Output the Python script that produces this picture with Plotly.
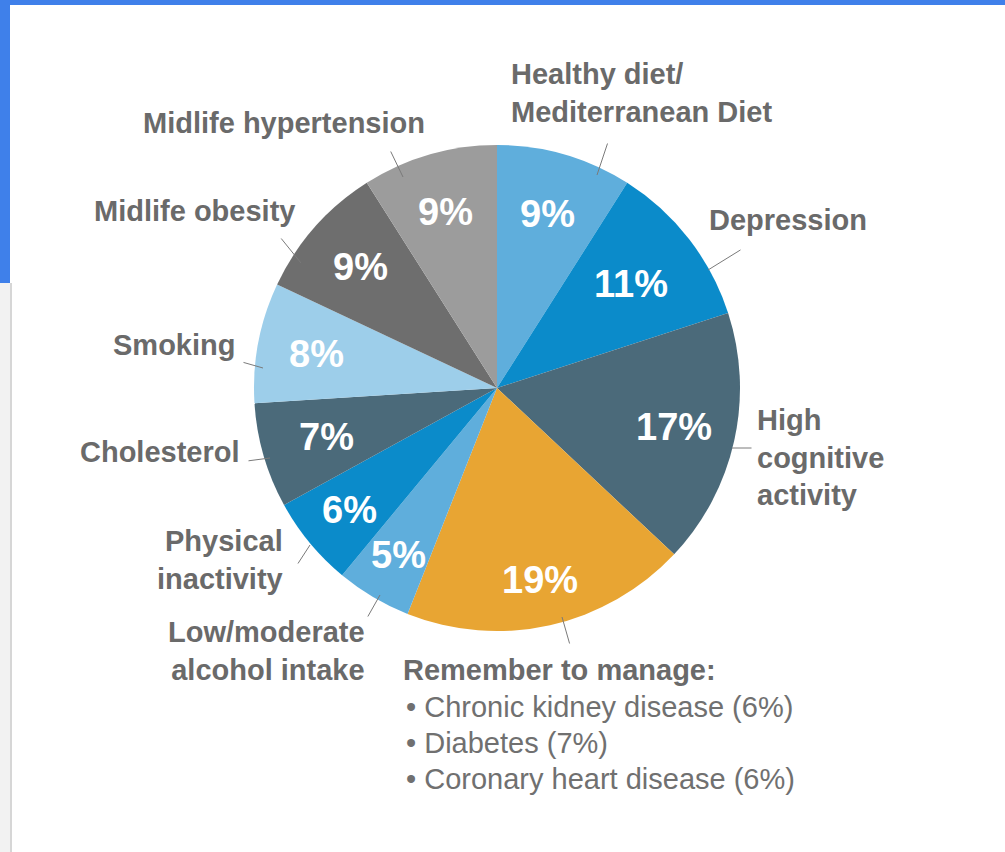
import math
import plotly.graph_objects as go

# ---------------- data ----------------
labels = ["Healthy diet/ Mediterranean Diet", "Depression", "High cognitive activity",
          "Remember to manage", "Low/moderate alcohol intake", "Physical inactivity",
          "Cholesterol", "Smoking", "Midlife obesity", "Midlife hypertension"]
values = [9, 11, 17, 19, 5, 6, 7, 8, 9, 9]
colors = ["#5FAEDC", "#0B8BCA", "#4B6A7A", "#E8A533", "#5FAEDC", "#0B8BCA",
          "#4B6A7A", "#9DCEEA", "#6E6E6E", "#9C9C9C"]
manage_items = ["Chronic kidney disease (6%)", "Diabetes (7%)", "Coronary heart disease (6%)"]

# ---------------- layout helpers ----------------
W, H = 1005, 852
CX, CY, R = 497, 388, 243


def px(x):
    return x / W


def py(y):
    return 1 - y / H


fig = go.Figure()
fig.add_trace(go.Pie(
    labels=labels, values=values, sort=False, direction="clockwise", rotation=0,
    marker=dict(colors=colors, line=dict(width=0)),
    textinfo="none", hoverinfo="label+percent", showlegend=False,
    domain=dict(x=[px(CX - R), px(CX + R)], y=[py(CY + R), py(CY - R)]),
))

annotations = []

# percentage labels placed along each slice's mid-angle
radial_frac = [0.745, 0.70, 0.745, 0.81, 0.80, 0.79, 0.73, 0.755, 0.75, 0.755]
total = sum(values)
cum = 0
for v, f in zip(values, radial_frac):
    mid = (cum + v / 2) / total * 2 * math.pi
    cum += v
    x = CX + R * f * math.sin(mid)
    y = CY - R * f * math.cos(mid)
    annotations.append(dict(
        x=px(x), y=py(y), xref="paper", yref="paper", showarrow=False,
        text=f"{v}%", font=dict(family="Liberation Sans", size=38, color="white",
                                 weight="bold"),
        xanchor="center", yanchor="middle"))

LABEL_FONT = dict(family="Liberation Sans", size=29, color="#6A6A6A", weight="bold")

# outer labels: (text, x, y, xanchor, align)
outer = [
    ("Midlife hypertension", 284, 123, "center", "center"),
    ("Healthy diet/<br>Mediterranean Diet", 509, 93, "left", "left"),
    ("Depression", 707, 220, "left", "left"),
    ("High<br>cognitive<br>activity", 755, 457, "left", "left"),
    ("Midlife obesity", 297, 211, "right", "right"),
    ("Smoking", 237, 345, "right", "right"),
    ("Cholesterol", 242, 452, "right", "right"),
    ("Physical<br>inactivity", 285, 560, "right", "right"),
    ("Low/moderate<br>alcohol intake", 367, 651, "right", "right"),
    ("Remember to manage:", 401, 670, "left", "left"),
]
for t, x, y, xa, al in outer:
    annotations.append(dict(
        x=px(x), y=py(y), xref="paper", yref="paper", showarrow=False, text=t,
        font=LABEL_FONT, xanchor=xa, yanchor="middle", align=al))

# bullet list
for i, item in enumerate(manage_items):
    annotations.append(dict(
        x=px(404), y=py(707 + 36 * i), xref="paper", yref="paper", showarrow=False,
        text="\u2022 " + item,
        font=dict(family="Liberation Sans", size=29, color="#707070"),
        xanchor="left", yanchor="middle", align="left"))

# leader lines: (tail x, tail y, head x, head y)
leaders = [
    (390, 150, 403, 177),
    (608, 142, 597, 175),
    (742, 249, 708, 270),
    (753, 448, 732, 448),
    (280, 237, 301, 263),
    (242, 362, 263, 368),
    (247, 461, 270, 458),
    (297, 565, 310, 545),
    (367, 618, 380, 595),
    (570, 645, 562, 617),
]
for tx, ty, hx, hy in leaders:
    annotations.append(dict(
        x=px(hx), y=py(hy), xref="paper", yref="paper", text="",
        showarrow=True, arrowhead=0, arrowwidth=1, arrowcolor="#7A7A7A",
        ax=tx - hx, ay=ty - hy, standoff=0, startstandoff=0))

# screenshot frame decoration
shapes = [
    dict(type="rect", xref="paper", yref="paper", x0=0, x1=1, y0=py(5), y1=1,
         fillcolor="#3F80EA", line=dict(width=0), layer="above"),
    dict(type="rect", xref="paper", yref="paper", x0=0, x1=px(10), y0=py(283), y1=1,
         fillcolor="#3F80EA", line=dict(width=0), layer="above"),
    dict(type="rect", xref="paper", yref="paper", x0=0, x1=px(10), y0=0, y1=py(283),
         fillcolor="#F2F2F2", line=dict(width=0), layer="above"),
    dict(type="rect", xref="paper", yref="paper", x0=px(10), x1=px(12), y0=0, y1=py(283),
         fillcolor="#D6D6D6", line=dict(width=0), layer="above"),
]

fig.update_layout(
    width=W, height=H, autosize=False,
    margin=dict(l=0, r=0, t=0, b=0),
    paper_bgcolor="white", plot_bgcolor="white",
    annotations=annotations, shapes=shapes,
)

fig.write_html("out.html")
